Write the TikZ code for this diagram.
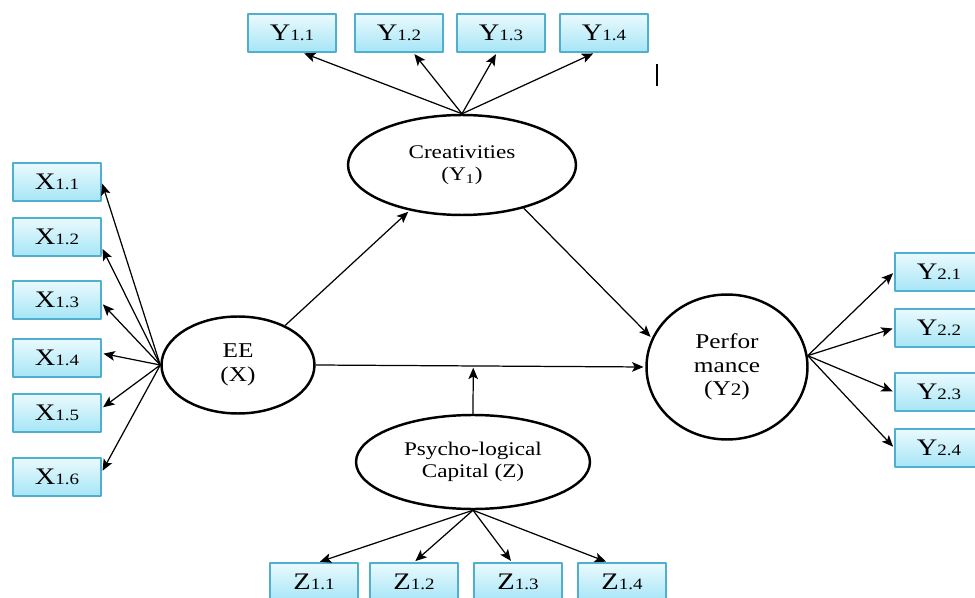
\documentclass[tikz,border=0pt]{standalone}
\usepackage{fontspec}
\setmainfont[FakeStretch=1.2]{Liberation Serif}
\usetikzlibrary{arrows.meta,shapes.geometric,calc}
\definecolor{boxtop}{RGB}{234,250,254}
\definecolor{boxbot}{RGB}{166,229,246}
\definecolor{boxline}{RGB}{78,176,206}
\tikzset{
	indbox/.style={draw=boxline, line width=0.8pt, top color=boxtop, bottom color=boxbot,
		minimum width=1.76cm, minimum height=0.76cm, inner sep=0pt,
		font=\fontsize{13.5}{15}\selectfont},
	latent/.style={draw, ellipse, line width=1.4pt, align=center, inner sep=0pt,
		font=\fontsize{11}{12.5}\selectfont},
	bigtext/.style={font=\fontsize{12}{13.5}\selectfont},
	link/.style={->, line width=0.7pt, shorten >=1pt}
}
\newcommand{\ind}[2]{#1{\fontsize{9}{10}\selectfont #2}}
\begin{document}
\begin{tikzpicture}[x=0.02cm, y=-0.02cm, line join=round, >={Stealth[length=6.5pt,width=5.5pt,inset=1.5pt]}]
	\useasboundingbox (0,0) rectangle (975,598);
	\clip (0,0) rectangle (975,598);
	\node[latent, bigtext, minimum width=3.06cm, minimum height=1.94cm] (ee) at (238,365) {EE\\(X)};
	\node[latent, minimum width=4.56cm, minimum height=2cm] (cre) at (462,165) {Creativities\\(Y\textsubscript{1})};
	\node[latent, bigtext, minimum width=3.22cm, minimum height=2.9cm] (perf) at (727,367) {Perfor\\mance\\(Y{\fontsize{10}{11}\selectfont 2})};
	\node[latent, minimum width=4.68cm, minimum height=1.88cm] (psy) at (473,462) {Psycho-logical\\Capital (Z)};
	\foreach \i/\y in {1/182,2/237,3/300,4/358,5/413,6/477}
		\node[indbox] (x\i) at (57,\y) {\ind{X}{1.\i}};
	\foreach \i/\x in {1/292,2/399,3/501,4/604}
		\node[indbox] (ya\i) at (\x,33) {\ind{Y}{1.\i}};
	\foreach \i/\y in {1/272,2/328,3/392,4/448}
		\node[indbox] (yb\i) at (939,\y) {\ind{Y}{2.\i}};
	\foreach \i/\x in {1/314,2/414,3/518,4/622}
		\node[indbox] (z\i) at (\x,582) {\ind{Z}{1.\i}};
	\foreach \i/\a in {1/0,2/-13,3/-4,4/6,5/6,6/6}
		\draw[link] (ee.west) -- (x\i.\a);
	\foreach \i/\a in {1/-62,2/-54,3/-102,4/-115}
		\draw[link] (cre.north) -- (ya\i.\a);
	\foreach \i in {1,...,4}
		\draw[link] (perf.8) -- (yb\i.west);
	\foreach \i/\a in {1/78,2/90,3/107,4/126}
		\draw[link] (psy.south) -- (z\i.\a);
	\draw[link] (ee.40) -- (cre.221);
	\draw[link] (cre.-35) -- (perf.159);
	\draw[link] (ee.east) -- (perf.west);
	\coordinate (mid) at ($(ee.east)!(psy.north)!(perf.west)$);
	\draw[link] (psy.north) -- (mid);
	\draw[line width=1pt] (657,64) -- (657,86);
\end{tikzpicture}
\end{document}
